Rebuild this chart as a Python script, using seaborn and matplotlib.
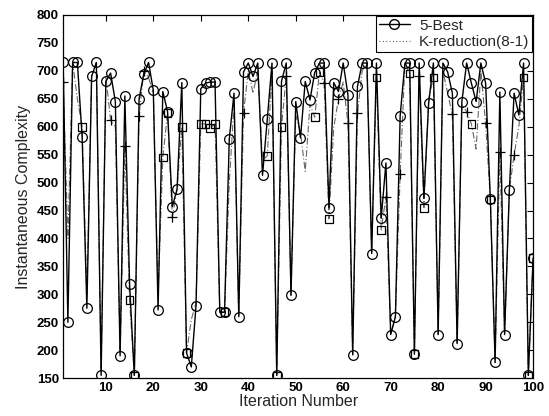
"""Instantaneous complexity per iteration: 5-Best vs K-reduction(8-1)."""
import matplotlib
matplotlib.use('Agg')
import matplotlib.pyplot as plt
import pandas as pd
import seaborn as sns

iterations = list(range(1, 101))

five_best = [
    715, 250, 715, 715, 582, 275, 690, 715, 155, 681,   # 1-10
    696, 645, 190, 655, 318, 155, 650, 695, 715, 665,   # 11-20
    272, 663, 627, 457, 488, 679, 195, 170, 280, 668,   # 21-30
    678, 680, 680, 268, 268, 578, 660, 260, 698, 714,   # 31-40
    690, 714, 513, 613, 714, 155, 681, 714, 298, 645,   # 41-50
    580, 681, 648, 697, 714, 714, 455, 679, 663, 714,   # 51-60
    657, 192, 672, 714, 714, 373, 714, 436, 535, 228,   # 61-70
    260, 620, 714, 714, 193, 714, 472, 642, 714, 228,   # 71-80
    714, 698, 660, 212, 645, 714, 678, 645, 714, 678,   # 81-90
    470, 178, 662, 228, 486, 660, 621, 714, 155, 365]   # 91-100

k_reduction = [
    680, 400, 715, 650, 600, 300, 690, 715, 160, 690,
    612, 600, 195, 565, 290, 155, 620, 700, 688, 660,
    300, 545, 625, 438, 488, 600, 195, 255, 285, 605,
    605, 598, 605, 268, 268, 500, 640, 260, 625, 700,
    660, 700, 540, 548, 700, 155, 600, 690, 300, 620,
    590, 520, 640, 617, 698, 678, 435, 598, 650, 680,
    606, 190, 624, 700, 714, 373, 688, 415, 475, 228,
    260, 515, 714, 695, 193, 690, 455, 650, 688, 228,
    700, 660, 622, 212, 640, 627, 605, 560, 700, 606,
    470, 178, 555, 228, 486, 550, 600, 688, 155, 365]

# iterations where the K-reduction curve shows a square / a plus marker
square_iters = [5, 15, 16, 22, 23, 26, 27, 30, 31, 32, 33, 35, 44, 46, 47,
                54, 55, 57, 67, 68, 74, 75, 77, 79, 87, 91, 98, 99, 100]
plus_iters = [1, 11, 14, 17, 18, 24, 39, 48, 56, 59, 61, 63, 69, 72, 76,
              83, 86, 90, 93, 96]

df = pd.DataFrame({'iter': iterations, 'best': five_best, 'kred': k_reduction})
sq = df[df['iter'].isin(square_iters)]
pl = df[df['iter'].isin(plus_iters)]

sns.set_style('white')
plt.rcParams['font.family'] = ['Liberation Sans', 'DejaVu Sans']

fig = plt.figure(figsize=(5.49, 4.16), dpi=100)
ax = fig.add_axes([0.115, 0.091, 0.856, 0.873])

sns.lineplot(data=df, x='iter', y='kred', ax=ax, color='0.4', lw=0.8,
             dashes=False, linestyle=(0, (6, 2, 1, 2)), label='_kred_line')
sns.lineplot(data=df, x='iter', y='best', ax=ax, color='black', lw=1.0,
             marker='o', markersize=7, markerfacecolor='none',
             markeredgecolor='black', markeredgewidth=0.9, label='_best')
sns.scatterplot(data=sq, x='iter', y='kred', ax=ax, marker='s', s=30,
                facecolor='none', edgecolor='black', linewidth=0.9, zorder=3)
sns.scatterplot(data=pl, x='iter', y='kred', ax=ax, marker='+', s=55,
                color='black', linewidth=0.9, zorder=3)

# legend handles
h_best, = ax.plot([], [], color='black', lw=1.0, marker='o', markersize=7,
                  markerfacecolor='none', markeredgecolor='black')
h_kred, = ax.plot([], [], color='0.4', lw=0.8, linestyle=(0, (1, 2)))
leg = ax.legend([h_best, h_kred], ['5-Best', 'K-reduction(8-1)'],
                loc='upper right', borderaxespad=0.05, fancybox=False,
                framealpha=1, edgecolor='black', fontsize=11,
                handlelength=2.0, handletextpad=0.6, borderpad=0.2,
                labelspacing=0.15)
leg.get_frame().set_linewidth(0.8)

ax.set_xlim(1, 100)
ax.set_ylim(150, 800)
ax.set_xticks(range(10, 101, 10))
ax.set_yticks(range(150, 801, 50))
ax.set_xlabel('Iteration Number', fontsize=11.5, labelpad=0)
ax.set_ylabel('Instantaneous Complexity', fontsize=11.5, labelpad=4)
ax.tick_params(direction='in', length=4, width=0.8, top=True, right=True,
               labelsize=9.5, pad=3, colors='black')
for lab in ax.get_xticklabels() + ax.get_yticklabels():
    lab.set_fontweight('bold')
for s in ax.spines.values():
    s.set_color('black')
    s.set_linewidth(0.9)

fig.savefig('out.png', dpi=100)
